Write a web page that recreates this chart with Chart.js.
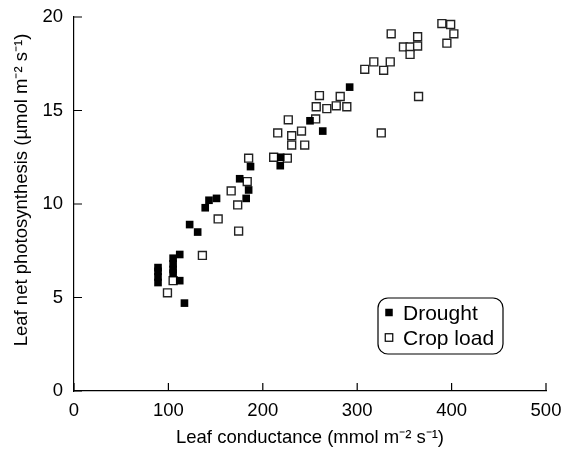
<!DOCTYPE html>
<html>
<head>
<meta charset="utf-8">
<script src="https://cdn.jsdelivr.net/npm/chart.js@4"></script>
<style>
  html, body { margin: 0; padding: 0; background: #fff; }
  #wrap { width: 566px; height: 456px; }
</style>
</head>
<body>
<div id="wrap"><canvas id="chart" width="566" height="456"></canvas></div>
<script>
// Leaf conductance (x) vs leaf net photosynthesis (y)
const droughtX = [89, 89, 89, 89, 105, 105, 105, 105, 112, 112, 117,
    122.5, 131, 139, 143, 151, 175.5, 185, 182.4, 187, 219, 218.5, 250, 263.5, 292];
const droughtY = [6.6, 6.4, 6.1, 5.8, 7.1, 6.8, 6.5, 6.3, 7.3, 5.9, 4.7,
    8.9, 8.5, 9.8, 10.2, 10.3, 11.35, 10.75, 10.3, 12.0, 12.5, 12.05, 14.45, 13.9, 16.25];

const cropX = [99, 105, 136, 152.7, 174.4, 173.4, 166.5, 183.5, 185,
    211.5, 226, 215.8, 230.6, 241, 230.6, 244.4, 227, 256,
    256.6, 267.8, 277.8, 289, 260, 282,
    325.5, 308, 317.6, 328, 335, 336,
    349, 356, 364, 356, 364, 365,
    389.7, 399, 402.4, 395];
const cropY = [5.25, 5.9, 7.25, 9.2, 8.55, 9.95, 10.7, 11.2, 12.45,
    12.5, 12.45, 13.8, 13.65, 13.9, 13.15, 13.15, 14.5, 14.55,
    15.2, 15.1, 15.25, 15.2, 15.8, 15.75,
    13.8, 17.2, 17.6, 17.15, 17.6, 19.1,
    18.4, 18.4, 18.45, 18.0, 18.95, 15.75,
    19.65, 19.6, 19.1, 18.6];

const xTicks = [0, 100, 200, 300, 400, 500];
const yTicks = [0, 5, 10, 15, 20];

const xTitle = 'Leaf conductance (mmol m\u207B\u00B2 s\u207B\u00B9)';
const yTitle = 'Leaf net photosynthesis (\u00B5mol m\u207B\u00B2 s\u207B\u00B9)';

const FONT = "'Liberation Sans', Arial, Helvetica, sans-serif";

const toPoints = (xs, ys) => xs.map((x, i) => ({ x, y: ys[i] }));

// inward tick marks + y title (sits a bit above the axis centre in the original)
const axisExtras = {
    id: 'axisExtras',
    afterDraw(chart) {
        const { ctx, chartArea, scales } = chart;
        ctx.save();
        ctx.strokeStyle = '#000';
        ctx.lineWidth = 1.2;
        ctx.beginPath();
        xTicks.forEach(v => {
            const px = scales.x.getPixelForValue(v);
            ctx.moveTo(px, chartArea.bottom);
            ctx.lineTo(px, chartArea.bottom - 8);
        });
        yTicks.forEach(v => {
            const py = scales.y.getPixelForValue(v);
            ctx.moveTo(chartArea.left, py);
            ctx.lineTo(chartArea.left + 8, py);
        });
        ctx.stroke();

        ctx.translate(27, 190);
        ctx.rotate(-Math.PI / 2);
        ctx.font = `18.5px ${FONT}`;
        ctx.fillStyle = '#000';
        ctx.textAlign = 'center';
        ctx.textBaseline = 'alphabetic';
        ctx.fillText(yTitle, 0, 0);
        ctx.restore();
    }
};

// boxed legend inside the plot, lower right
const boxLegend = {
    id: 'boxLegend',
    afterDraw(chart) {
        const { ctx, chartArea } = chart;
        const w = 125, h = 56;
        const x0 = chartArea.right - 168;
        const y0 = chartArea.bottom - 93;
        ctx.save();
        ctx.strokeStyle = '#000';
        ctx.lineWidth = 1.2;
        ctx.beginPath();
        ctx.roundRect(x0, y0, w, h, 10);
        ctx.stroke();
        ctx.font = `21px ${FONT}`;
        ctx.textBaseline = 'alphabetic';
        ctx.fillStyle = '#000';
        chart.data.datasets.forEach((ds, i) => {
            const cy = y0 + 14.5 + i * 25;
            const s = 7.5;
            if (ds.pointBackgroundColor === '#000') {
                ctx.fillRect(x0 + 11 - s / 2, cy - s / 2, s, s);
            } else {
                ctx.lineWidth = 1.2;
                ctx.strokeRect(x0 + 11 - s / 2, cy - s / 2, s, s);
            }
            ctx.fillText(ds.label, x0 + 25, cy + 7.5);
        });
        ctx.restore();
    }
};

new Chart(document.getElementById('chart'), {
    type: 'scatter',
    data: {
        datasets: [{
            label: 'Drought',
            data: toPoints(droughtX, droughtY),
            pointStyle: 'rect',
            pointRadius: 5.4,
            pointBackgroundColor: '#000',
            pointBorderColor: '#000',
            pointBorderWidth: 0
        }, {
            label: 'Crop load',
            data: toPoints(cropX, cropY),
            pointStyle: 'rect',
            pointRadius: 5.6,
            pointBackgroundColor: '#fff',
            pointBorderColor: '#222',
            pointBorderWidth: 1.4
        }]
    },
    options: {
        responsive: false,
        animation: false,
        layout: { padding: { top: 17, right: 20, left: 0, bottom: 0 } },
        plugins: {
            legend: { display: false },
            tooltip: { enabled: false }
        },
        scales: {
            x: {
                type: 'linear',
                min: 0,
                max: 500,
                afterFit: s => {
                    s.height = 65;
                    s.paddingLeft = 0;
                    s.paddingRight = 0;
                },
                afterBuildTicks: s => { s.ticks = xTicks.map(v => ({ value: v })); },
                grid: { display: false, drawTicks: false },
                border: { display: true, color: '#000', width: 1.2 },
                ticks: { color: '#000', font: { family: FONT, size: 18.5 }, padding: 9, maxRotation: 0 },
                title: {
                    display: true,
                    text: xTitle,
                    color: '#000',
                    font: { family: FONT, size: 18.5 },
                    padding: { top: 0, bottom: 7 }
                }
            },
            y: {
                type: 'linear',
                min: 0,
                max: 20,
                afterFit: s => {
                    s.width = 74;
                    s.paddingTop = 0;
                    s.paddingBottom = 0;
                },
                afterBuildTicks: s => { s.ticks = yTicks.map(v => ({ value: v })); },
                grid: { display: false, drawTicks: false },
                border: { display: true, color: '#000', width: 1.2 },
                ticks: { color: '#000', font: { family: FONT, size: 18.5 }, padding: 11 },
                title: { display: false }
            }
        }
    },
    plugins: [axisExtras, boxLegend]
});
</script>
</body>
</html>
